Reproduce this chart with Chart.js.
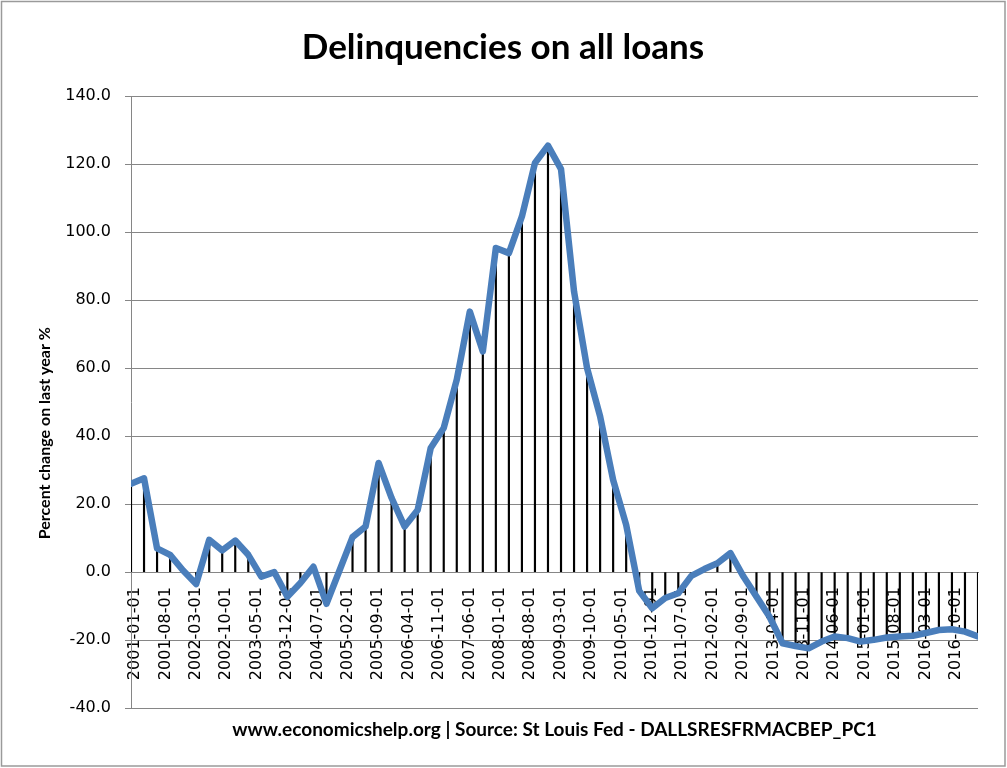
<!DOCTYPE html>
<html lang="en">
<head>
    <meta charset="UTF-8">
    <title>Delinquencies on all loans</title>
    <script src="https://cdn.jsdelivr.net/npm/chart.js"></script>
    <style>
        body { margin: 0; background: #fff; }
        canvas { display: block; }
    </style>
</head>
<body>
    <canvas id="myChart" width="1007" height="768"></canvas>
    <script>
        // quarterly observations
        const dates = [
            '2001-01-01', '2001-04-01', '2001-07-01', '2001-10-01',
            '2002-01-01', '2002-04-01', '2002-07-01', '2002-10-01',
            '2003-01-01', '2003-04-01', '2003-07-01', '2003-10-01',
            '2004-01-01', '2004-04-01', '2004-07-01', '2004-10-01',
            '2005-01-01', '2005-04-01', '2005-07-01', '2005-10-01',
            '2006-01-01', '2006-04-01', '2006-07-01', '2006-10-01',
            '2007-01-01', '2007-04-01', '2007-07-01', '2007-10-01',
            '2008-01-01', '2008-04-01', '2008-07-01', '2008-10-01',
            '2009-01-01', '2009-04-01', '2009-07-01', '2009-10-01',
            '2010-01-01', '2010-04-01', '2010-07-01', '2010-10-01',
            '2011-01-01', '2011-04-01', '2011-07-01', '2011-10-01',
            '2012-01-01', '2012-04-01', '2012-07-01', '2012-10-01',
            '2013-01-01', '2013-04-01', '2013-07-01', '2013-10-01',
            '2014-01-01', '2014-04-01', '2014-07-01', '2014-10-01',
            '2015-01-01', '2015-04-01', '2015-07-01', '2015-10-01',
            '2016-01-01', '2016-04-01', '2016-07-01', '2016-10-01',
            '2017-01-01', '2017-04-01'
        ];

        // percent change on last year
        const pctChange = [
            26.0, 27.6, 7.0, 5.1,
            0.5, -3.5, 9.5, 6.4,
            9.3, 5.1, -1.3, 0.0,
            -7.2, -3.2, 1.6, -9.3,
            0.5, 10.3, 13.4, 32.1,
            21.8, 13.4, 18.3, 36.5,
            42.4, 56.6, 76.6, 64.9,
            95.3, 93.8, 104.6, 120.3,
            125.4, 118.5, 82.5, 60.0,
            45.8, 27.1, 13.9, -5.5,
            -10.6, -7.6, -6.2, -1.1,
            0.9, 2.6, 5.6, -1.3,
            -7.2, -13.1, -20.9, -21.7,
            -22.4, -20.4, -18.9, -19.4,
            -20.4, -19.9, -19.2, -18.9,
            -18.7, -17.9, -17.0, -16.8,
            -17.5, -18.9
        ];

        // axis labels every 7 months
        const tickLabels = [
            '2001-01-01', '2001-08-01', '2002-03-01', '2002-10-01', '2003-05-01',
            '2003-12-01', '2004-07-01', '2005-02-01', '2005-09-01', '2006-04-01',
            '2006-11-01', '2007-06-01', '2008-01-01', '2008-08-01', '2009-03-01',
            '2009-10-01', '2010-05-01', '2010-12-01', '2011-07-01', '2012-02-01',
            '2012-09-01', '2013-04-01', '2013-11-01', '2014-06-01', '2015-01-01',
            '2015-08-01', '2016-03-01', '2016-10-01'
        ];

        const yTicks = [-40, -20, 0, 20, 40, 60, 80, 100, 120, 140];

        // months since 2001-01
        function monthIndex(d) {
            const [y, m] = d.split('-').map(Number);
            return (y - 2001) * 12 + (m - 1);
        }

        const points = dates.map((d, i) => ({ x: monthIndex(d), y: pctChange[i] }));
        const lastMonth = monthIndex(dates[dates.length - 1]);

        const frame = {
            id: 'frame',
            beforeDraw(chart) {
                const c = chart.ctx;
                c.save();
                c.fillStyle = '#fff';
                c.fillRect(0, 0, chart.width, chart.height);
                c.restore();
            },
            afterDraw(chart) {
                const c = chart.ctx;
                c.save();
                c.strokeStyle = '#9a9a9a';
                c.lineWidth = 1.5;
                c.strokeRect(1.5, 1.5, chart.width - 3.5, chart.height - 3.5);
                c.restore();
            }
        };

        // trailing spaces push the rotated title down a little, like the original
        const yTitle = 'Percent change on last year %' + '\u00A0'.repeat(16);

        new Chart(document.getElementById('myChart'), {
            data: {
                datasets: [{
                    type: 'line',
                    data: points,
                    borderColor: '#4A7EBB',
                    borderWidth: 6.5,
                    borderJoinStyle: 'round',
                    borderCapStyle: 'round',
                    pointRadius: 0,
                    tension: 0,
                    order: 0
                }, {
                    type: 'bar',
                    data: points,
                    backgroundColor: '#000',
                    barThickness: 1.5,
                    order: 1
                }]
            },
            options: {
                responsive: false,
                animation: false,
                layout: { padding: { left: 28, right: 29, top: 0, bottom: 16 } },
                plugins: {
                    legend: { display: false },
                    tooltip: { enabled: false },
                    title: {
                        display: true,
                        text: 'Delinquencies on all loans',
                        color: '#000',
                        font: { family: 'Lato', weight: 'bold', size: 35 },
                        padding: { top: 27, bottom: 27 }
                    }
                },
                scales: {
                    x: {
                        type: 'linear',
                        min: 0,
                        max: lastMonth,
                        offset: false,
                        position: { y: 0 },
                        grid: { display: false, drawTicks: false },
                        border: { display: true, color: '#868686', width: 1 },
                        afterBuildTicks: s => { s.ticks = tickLabels.map((t, i) => ({ value: i * 7 })); },
                        ticks: {
                            autoSkip: false,
                            minRotation: 90,
                            maxRotation: 90,
                            padding: 15,
                            labelOffset: 4,
                            color: '#000',
                            font: { family: 'DejaVu Sans', size: 16 },
                            callback: (v, i) => tickLabels[i]
                        }
                    },
                    // carries only the source line, centred under the plot area
                    x2: {
                        type: 'linear',
                        position: 'bottom',
                        min: 0,
                        max: lastMonth,
                        offset: false,
                        grid: { display: false, drawTicks: false },
                        border: { display: false },
                        ticks: { display: false },
                        title: {
                            display: true,
                            text: 'www.economicshelp.org | Source: St Louis Fed - DALLSRESFRMACBEP_PC1',
                            color: '#000',
                            font: { family: 'Lato', weight: 'bold', size: 19 },
                            padding: { top: 10.5, bottom: 10.5 }
                        }
                    },
                    y: {
                        min: -40,
                        max: 140,
                        afterBuildTicks: s => { s.ticks = yTicks.map(v => ({ value: v })); },
                        afterFit: s => { s.width = 103; },
                        grid: { color: '#868686', tickLength: 6 },
                        border: { color: '#868686' },
                        ticks: {
                            padding: 14,
                            color: '#000',
                            font: { family: 'DejaVu Sans', size: 16 },
                            callback: v => v.toFixed(1)
                        },
                        title: {
                            display: true,
                            text: yTitle,
                            color: '#000',
                            font: { family: 'Lato', weight: 'bold', size: 16 },
                            padding: { top: 7, bottom: 0 }
                        }
                    }
                }
            },
            plugins: [frame]
        });
    </script>
</body>
</html>
